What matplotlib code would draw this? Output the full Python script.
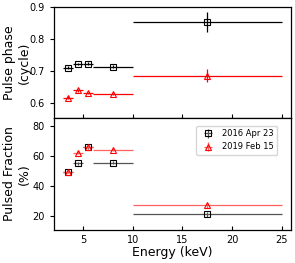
import matplotlib
matplotlib.use("Agg")
import matplotlib.pyplot as plt
import numpy as np

# energy bins (keV)
e_lo = np.array([3.0, 4.0, 5.0, 6.0, 10.0])
e_hi = np.array([4.0, 5.0, 6.0, 10.0, 25.0])
energy = (e_lo + e_hi) / 2
e_err = (e_hi - e_lo) / 2

phase_2016 = [0.710, 0.722, 0.723, 0.714, 0.853]
phase_2016_err = [0.005, 0.004, 0.004, 0.005, 0.031]
phase_2019 = [0.617, 0.640, 0.632, 0.628, 0.685]
phase_2019_err = [0.005, 0.004, 0.004, 0.004, 0.020]

pf_2016 = [49.5, 55.0, 65.5, 55.5, 21.0]
pf_2016_err = [1.0, 1.0, 1.0, 1.0, 1.5]
pf_2019 = [49.5, 62.0, 66.0, 64.0, 27.0]
pf_2019_err = [1.0, 1.0, 1.0, 1.0, 1.5]

fig = plt.figure(figsize=(2.95, 2.63), dpi=100)
ax1 = fig.add_axes([0.183, 0.551, 0.803, 0.422])
ax2 = fig.add_axes([0.183, 0.1255, 0.803, 0.4255], sharex=ax1)

sq = dict(fmt="s", mfc="none", mec="black", ms=4.5, mew=0.8, elinewidth=0.9, capsize=0)
tr = dict(fmt="^", mfc="none", mec="red", ms=4.5, mew=0.8, elinewidth=0.9, capsize=0)

ax1.errorbar(energy, phase_2016, xerr=e_err, yerr=phase_2016_err, ecolor="black", **sq)
ax1.errorbar(energy, phase_2019, xerr=e_err, yerr=phase_2019_err, ecolor="red", **tr)
ax2.errorbar(energy, pf_2016, xerr=e_err, yerr=pf_2016_err, label="2016 Apr 23",
             ecolor="#555555", **sq)
ax2.errorbar(energy, pf_2019, xerr=e_err, yerr=pf_2019_err, label="2019 Feb 15",
             ecolor="#ff6060", **tr)

ax1.set_xlim(2.1, 25.9)
ax1.set_ylim(0.553, 0.9)
ax1.set_yticks([0.6, 0.7, 0.8, 0.9])
ax2.set_ylim(10.7, 85)
ax2.set_yticks([20, 40, 60, 80])
ax2.set_xticks([5, 10, 15, 20, 25])

ax1.set_ylabel("Pulse phase\n(cycle)", fontsize=9)
ax2.set_ylabel("Pulsed Fraction\n(%)", fontsize=9)
ax1.yaxis.set_label_coords(-0.097, 0.5)
ax2.yaxis.set_label_coords(-0.097, 0.5)
ax2.set_xlabel("Energy (keV)", fontsize=9, labelpad=1)

for ax in (ax1, ax2):
    ax.tick_params(axis="x", direction="in", length=3, labelsize=7)
    ax.tick_params(axis="y", direction="out", length=3, labelsize=7)
    for s in ax.spines.values():
        s.set_linewidth(0.9)
plt.setp(ax1.get_xticklabels(), visible=False)

ax2.legend(loc="upper right", fontsize=6, frameon=True, handletextpad=0.7,
           borderpad=0.4, borderaxespad=0, bbox_to_anchor=(0.943, 0.93))

fig.savefig("out.png", dpi=100)
